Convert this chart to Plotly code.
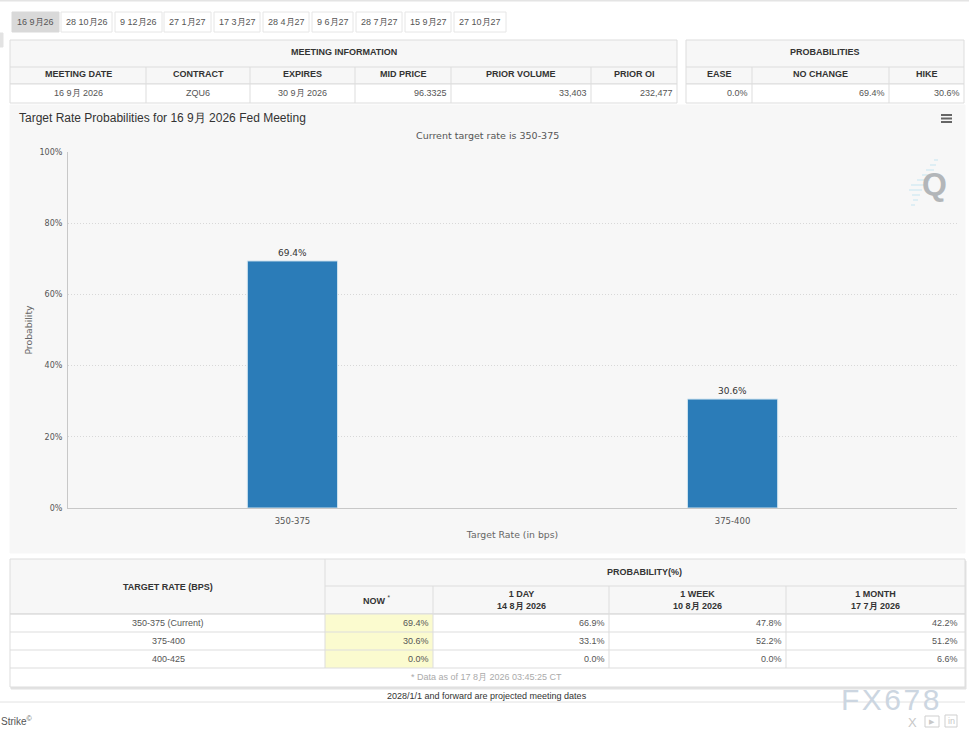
import plotly.graph_objects as go

W, H = 969, 735

# datos del grafico
rates = ["350-375", "375-400"]
probs = [69.4, 30.6]
bar_labels = ["69.4%", "30.6%"]
y_ticks = [0, 20, 40, 60, 80, 100]
y_tick_labels = ["0%", "20%", "40%", "60%", "80%", "100%"]

# pestañas de reuniones
tabs = ["16 9月26", "28 10月26", "9 12月26", "27 1月27", "17 3月27",
        "28 4月27", "9 6月27", "28 7月27", "15 9月27", "27 10月27"]
tab_edges = [(12, 59), (61, 112), (115, 162), (164, 211), (214, 260),
             (263, 309), (312, 353), (356, 402), (405, 451), (454, 506)]

# tablas
info_headers = ["MEETING DATE", "CONTRACT", "EXPIRES", "MID PRICE", "PRIOR VOLUME", "PRIOR OI"]
info_values = ["16 9月 2026", "ZQU6", "30 9月 2026", "96.3325", "33,403", "232,477"]
info_cols = [10, 146, 250, 355, 451, 591, 677]

prob_headers = ["EASE", "NO CHANGE", "HIKE"]
prob_values = ["0.0%", "69.4%", "30.6%"]
prob_cols = [686, 752, 889, 964]

target_rows = ["350-375 (Current)", "375-400", "400-425"]
now_values = ["69.4%", "30.6%", "0.0%"]
day_values = ["66.9%", "33.1%", "0.0%"]
week_values = ["47.8%", "52.2%", "0.0%"]
month_values = ["42.2%", "51.2%", "6.6%"]
hist_cols = [10, 325, 433, 609, 786, 965]
row_edges = [614, 632, 650, 668]

TABLE_FONT = "Liberation Sans"
CHART_FONT = "DejaVu Sans"
LINE = "#dddddd"
HEAD = "#f7f7f7"


def px(x):
    return x / W


def py(y):
    return 1 - y / H


shapes = []
annotations = []


def rect(x0, y0, x1, y1, fill="rgba(0,0,0,0)", line=LINE, width=1):
    shapes.append(dict(type="rect", xref="paper", yref="paper", layer="below",
                       x0=px(x0), x1=px(x1), y0=py(y0), y1=py(y1), fillcolor=fill,
                       line=dict(color=line, width=width)))


def hline(x0, x1, y, color=LINE, width=1):
    shapes.append(dict(type="line", xref="paper", yref="paper", layer="below",
                       x0=px(x0), x1=px(x1), y0=py(y), y1=py(y),
                       line=dict(color=color, width=width)))


def vline(x, y0, y1, color=LINE, width=1):
    shapes.append(dict(type="line", xref="paper", yref="paper", layer="below",
                       x0=px(x), x1=px(x), y0=py(y0), y1=py(y1),
                       line=dict(color=color, width=width)))


def label(x, y, text, size=9, color="#555555", anchor="center", font=TABLE_FONT):
    annotations.append(dict(xref="paper", yref="paper", x=px(x), y=py(y), text=text,
                            showarrow=False, xanchor=anchor, yanchor="middle",
                            borderpad=0, font=dict(family=font, size=size, color=color)))


# fondo y lineas generales
hline(0, 969, 0.5, "#e4e4e4", 2)
rect(0, 33, 3, 47, "#e3e3e3", "#e3e3e3")
hline(0, 965, 702, "#e2e2e2")

# pestañas
for i, (name, (a, b)) in enumerate(zip(tabs, tab_edges)):
    rect(a, 12, b, 32, "#d9d9d9" if i == 0 else "#ffffff", "#d9d9d9" if i == 0 else "#e6e6e6")
    label((a + b) / 2, 22, name)

# tabla de informacion
rect(10, 40, 677, 84, HEAD)
rect(10, 84, 677, 103, "#ffffff")
hline(10, 677, 67)
for c in info_cols[1:-1]:
    vline(c, 67, 103)
label(343.5, 52.5, "<b>MEETING INFORMATION</b>", color="#333333")
for i, h in enumerate(info_headers):
    x_mid = (info_cols[i] + info_cols[i + 1]) / 2
    label(x_mid, 74.5, "<b>" + h + "</b>", color="#333333")
    if i < 3:
        label(x_mid, 93, info_values[i])
    else:
        label(info_cols[i + 1] - 3, 93, info_values[i], anchor="right")

# tabla de probabilidades
rect(686, 40, 964, 84, HEAD)
rect(686, 84, 964, 103, "#ffffff")
hline(686, 964, 67)
for c in prob_cols[1:-1]:
    vline(c, 67, 103)
label(825, 52.5, "<b>PROBABILITIES</b>", color="#333333")
for i, h in enumerate(prob_headers):
    label((prob_cols[i] + prob_cols[i + 1]) / 2, 74.5, "<b>" + h + "</b>", color="#333333")
    label(prob_cols[i + 1] - 3, 93, prob_values[i], anchor="right")

# panel del grafico
rect(10, 105, 965, 553, "#f7f7f7", "#f7f7f7")
label(17.5, 117.5, "Target Rate Probabilities for 16 9月 2026 Fed Meeting", size=12,
      color="#333333", anchor="left")
label(487.5, 135.5, "Current target rate is 350-375", size=9.5, color="#555555", font=CHART_FONT)

# menu
for yy in [115, 118.5, 122]:
    hline(941, 952, yy, "#666666", 2)

# logo Q
for xa, xb, yy in [(934, 938, 160), (930, 936, 165), (926, 934, 170), (922, 932, 175),
                   (917, 930, 180), (911, 926, 185), (909, 922, 190), (912, 920, 195),
                   (913, 918, 200), (911, 915, 205)]:
    hline(xa, xb, yy, "#d6ebf3", 1.5)
label(934, 183.5, "<b>Q</b>", size=32, color="#b3b6b9", font=TABLE_FONT)

# tabla inferior
rect(11, 561, 966, 689, "#e2e2e2", "#e2e2e2")
rect(10, 559, 965, 614, HEAD)
rect(10, 614, 965, 687, "#ffffff")
rect(325, 614, 433, 668, "#fbfbcf", "rgba(0,0,0,0)")
hline(325, 965, 586)
for r in row_edges:
    hline(10, 965, r)
vline(325, 559, 668)
for c in hist_cols[2:-1]:
    vline(c, 586, 668)
label(168, 586.5, "<b>TARGET RATE (BPS)</b>", color="#333333")
label(644, 571.5, "<b>PROBABILITY(%)</b>", color="#333333")
label(377, 599.5, "<b>NOW</b> <sup>*</sup>", color="#333333")
hist_heads = ["1 DAY<br>14 8月 2026", "1 WEEK<br>10 8月 2026", "1 MONTH<br>17 7月 2026"]
for i, h in enumerate(hist_heads):
    label((hist_cols[i + 2] + hist_cols[i + 3]) / 2, 600, "<b>" + h + "</b>", color="#333333")
for i, name in enumerate(target_rows):
    y_mid = (row_edges[i] + row_edges[i + 1]) / 2
    label(168, y_mid, name)
    label(430, y_mid, now_values[i], anchor="right")
    label(606, y_mid, day_values[i], anchor="right")
    label(783, y_mid, week_values[i], anchor="right")
    label(959, y_mid, month_values[i], anchor="right")
label(487, 677, "* Data as of 17 8月 2026 03:45:25 CT", color="#aaaaaa")
label(487, 695.5, "2028/1/1 and forward are projected meeting dates", color="#333333")
label(0, 721, "Strike<sup>©</sup>", size=10, color="#555555", anchor="left")

# marca de agua
label(890, 699.5, "F\u200aX\u200a6\u200a7\u200a8", size=30, color="#ccd6e1")
label(912, 722, "X", size=13, color="#c8c8c8")
rect(925, 716, 939, 727, "rgba(0,0,0,0)", "#cfcfcf")
label(932, 721.5, "▶", size=7, color="#c8c8c8")
rect(945, 715, 957, 727, "rgba(0,0,0,0)", "#cfcfcf")
label(951, 721, "in", size=9, color="#c8c8c8")

fig = go.Figure()
fig.add_trace(go.Bar(
    x=rates,
    y=probs,
    text=bar_labels,
    textposition="outside",
    cliponaxis=False,
    width=0.205,
    marker=dict(color="#2b7cb8", line=dict(color="#cfe3ef", width=1)),
    textfont=dict(family=CHART_FONT, size=9, color="#333333"),
))

fig.update_layout(
    width=W,
    height=H,
    margin=dict(l=0, r=0, t=0, b=0, autoexpand=False),
    paper_bgcolor="#ffffff",
    plot_bgcolor="rgba(0,0,0,0)",
    showlegend=False,
    shapes=shapes,
    annotations=annotations,
    font=dict(family=CHART_FONT),
    xaxis=dict(
        domain=[px(68), px(957)],
        range=[-0.51, 1.51],
        type="category",
        showgrid=False,
        showline=True,
        linecolor="#c8c8c8",
        ticks="",
        ticklabelstandoff=5,
        tickfont=dict(family=CHART_FONT, size=8.5, color="#555555"),
        title=dict(text="Target Rate (in bps)", standoff=6,
                   font=dict(family=CHART_FONT, size=9.3, color="#666666")),
    ),
    yaxis=dict(
        domain=[py(508), py(152)],
        range=[0, 100],
        tickvals=y_ticks,
        ticktext=y_tick_labels,
        showgrid=True,
        gridcolor="#d8d8d8",
        griddash="1px,2px",
        zeroline=False,
        showline=True,
        linecolor="#c8c8c8",
        ticks="",
        ticklabelstandoff=3,
        tickfont=dict(family=CHART_FONT, size=8, color="#555555"),
        title=dict(text="Probability", standoff=5,
                   font=dict(family=CHART_FONT, size=9.3, color="#666666")),
    ),
)

fig.write_html("out.html", config=dict(displayModeBar=False),
               post_script="document.body.style.margin='0';")
